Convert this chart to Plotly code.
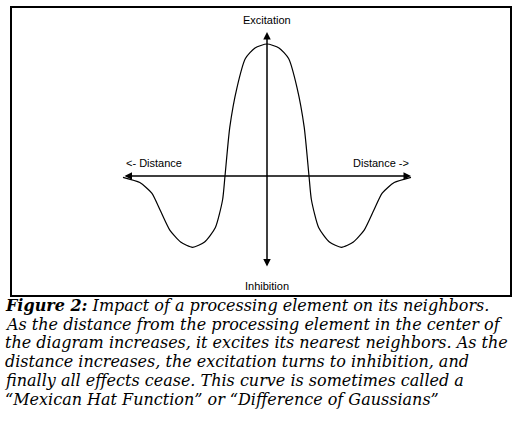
import plotly.graph_objects as go

# Mexican hat curve (distance units, normalized excitation)
distance = [-6.0, -5.3, -4.8, -4.45, -4.05, -3.6, -3.1, -2.6, -2.15, -1.85, -1.75, -1.55, -1.25, -0.9, -0.5, 0.0,
            0.5, 0.9, 1.25, 1.55, 1.75, 1.85, 2.15, 2.6, 3.1, 3.6, 4.05, 4.45, 4.8, 5.3, 6.0]
response = [-0.01, -0.05, -0.13, -0.26, -0.41, -0.5, -0.54, -0.5, -0.39, -0.18, 0.0, 0.37, 0.67, 0.89, 0.97, 1.0,
            0.97, 0.89, 0.67, 0.37, 0.0, -0.18, -0.39, -0.5, -0.54, -0.5, -0.41, -0.26, -0.13, -0.05, -0.01]

axis_labels = ["Excitation", "Inhibition", "<- Distance", "Distance ->"]

caption_lines = [
    "<b><i>Figure 2:</i></b><i> Impact of a processing element on its neighbors.</i>",
    "<i>As the distance from the processing element in the center of</i>",
    "<i>the diagram increases, it excites its nearest neighbors. As the</i>",
    "<i>distance increases, the excitation turns to inhibition, and</i>",
    "<i>finally all effects cease. This curve is sometimes called a</i>",
    "<i>\u201cMexican Hat Function\u201d or \u201cDifference of Gaussians\u201d</i>",
]

W, H = 522, 431
X0PX, Y0PX = 267, 176   # pixel position of origin
UX, UY = 24.0, 132.0    # pixels per unit

fig = go.Figure()
fig.add_trace(go.Scatter(x=distance, y=response, mode="lines",
                         line=dict(color="black", width=1.2, shape="spline", smoothing=0.6),
                         hoverinfo="skip", showlegend=False))

xr = [-X0PX / UX, (W - X0PX) / UX]
yr = [-(H - Y0PX) / UY, Y0PX / UY]

ax_common = dict(showgrid=False, zeroline=False, showticklabels=False, showline=False, ticks="")
fig.update_layout(
    width=W, height=H, margin=dict(l=0, r=0, t=0, b=0),
    paper_bgcolor="white", plot_bgcolor="white",
    xaxis=dict(range=xr, domain=[0, 1], **ax_common),
    yaxis=dict(range=yr, domain=[0, 1], **ax_common),
    showlegend=False,
)

# frame box
fig.add_shape(type="rect", xref="paper", yref="paper",
              x0=11 / W, x1=511 / W, y0=1 - 296 / H, y1=1 - 7 / H,
              line=dict(color="black", width=2))

# axes with arrowheads
hx = 144 / UX
fig.add_annotation(x=hx, y=0, ax=-hx, ay=0, xref="x", yref="y", axref="x", ayref="y",
                   text="", showarrow=True, arrowhead=2, arrowside="end+start",
                   arrowsize=1.0, arrowwidth=1.5, arrowcolor="black")
fig.add_annotation(x=0, y=(Y0PX - 32) / UY, ax=0, ay=(Y0PX - 268) / UY, xref="x", yref="y",
                   axref="x", ayref="y", text="", showarrow=True, arrowhead=2,
                   arrowside="end+start", arrowsize=1.0, arrowwidth=1.5, arrowcolor="black")

lab_font = dict(family="Liberation Sans, Arial", size=11, color="black")
fig.add_annotation(x=267 / W, y=1 - 20 / H, xref="paper", yref="paper", text=axis_labels[0],
                   showarrow=False, font=lab_font, xanchor="center", yanchor="middle")
fig.add_annotation(x=267 / W, y=1 - 286 / H, xref="paper", yref="paper", text=axis_labels[1],
                   showarrow=False, font=lab_font, xanchor="center", yanchor="middle")
fig.add_annotation(x=124 / W, y=1 - 163 / H, xref="paper", yref="paper", text=axis_labels[2],
                   showarrow=False, font=lab_font, xanchor="left", yanchor="middle")
fig.add_annotation(x=411 / W, y=1 - 163 / H, xref="paper", yref="paper", text=axis_labels[3],
                   showarrow=False, font=lab_font, xanchor="right", yanchor="middle")

cap_font = dict(family="DejaVu Serif", size=16, color="black")
line_y = [305.5, 324.2, 342.9, 361.6, 380.3, 399.0]
for txt, py in zip(caption_lines, line_y):
    fig.add_annotation(x=4 / W, y=1 - py / H, xref="paper", yref="paper", text=txt,
                       showarrow=False, font=cap_font, xanchor="left", yanchor="middle",
                       align="left", borderpad=0)

fig.write_html("out.html")
